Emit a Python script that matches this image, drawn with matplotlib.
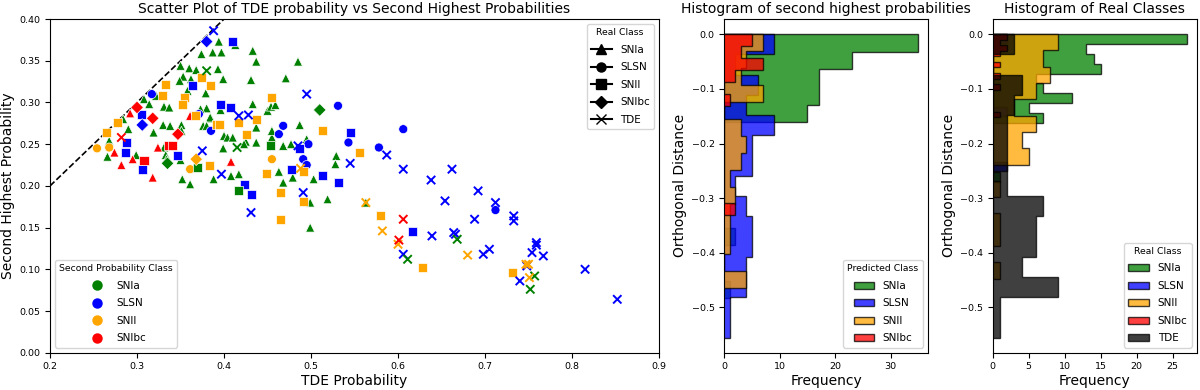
import numpy as np
import matplotlib
matplotlib.use('Agg')
from matplotlib import pyplot as plt
from matplotlib.lines import Line2D
from matplotlib.patches import Patch

#  class names / colours
second_classes = ['SNIa', 'SLSN', 'SNII', 'SNIbc']
second_colors = {'g': 'green', 'b': 'blue', 'o': 'orange', 'r': 'red'}
real_classes = ['SNIa', 'SLSN', 'SNII', 'SNIbc', 'TDE']
real_markers = ['^', 'o', 's', 'D', 'x']
hist_colors = ['green', 'blue', 'orange', 'red', 'black']

#  scatter data: (TDE probability, second highest probability, second class)
snia_pts = [
    (0.394, 0.373, 'g'), (0.413, 0.369, 'g'), (0.433, 0.362, 'g'), (0.437, 0.349, 'g'),
    (0.485, 0.349, 'g'), (0.374, 0.358, 'g'), (0.387, 0.360, 'g'), (0.397, 0.360, 'g'),
    (0.350, 0.344, 'g'), (0.360, 0.341, 'g'), (0.368, 0.339, 'g'), (0.393, 0.340, 'g'),
    (0.353, 0.331, 'g'), (0.362, 0.328, 'g'), (0.399, 0.328, 'g'), (0.431, 0.327, 'g'),
    (0.471, 0.329, 'g'), (0.349, 0.326, 'g'), (0.358, 0.314, 'g'), (0.379, 0.311, 'g'),
    (0.322, 0.308, 'g'), (0.308, 0.304, 'g'), (0.314, 0.298, 'g'), (0.331, 0.295, 'g'),
    (0.337, 0.294, 'g'), (0.380, 0.293, 'g'), (0.396, 0.291, 'g'), (0.385, 0.281, 'g'),
    (0.284, 0.280, 'g'), (0.330, 0.273, 'g'), (0.338, 0.272, 'g'), (0.351, 0.273, 'g'),
    (0.376, 0.272, 'g'), (0.290, 0.268, 'g'), (0.351, 0.266, 'g'), (0.319, 0.264, 'g'),
    (0.400, 0.260, 'g'), (0.268, 0.254, 'g'), (0.266, 0.235, 'g'), (0.299, 0.237, 'g'),
    (0.331, 0.246, 'g'), (0.333, 0.237, 'g'), (0.350, 0.231, 'g'), (0.334, 0.232, 'g'),
    (0.352, 0.208, 'g'), (0.361, 0.202, 'g'), (0.388, 0.208, 'g'), (0.399, 0.245, 'g'),
    (0.433, 0.298, 'g'), (0.450, 0.290, 'g'), (0.454, 0.295, 'g'), (0.459, 0.297, 'g'),
    (0.404, 0.258, 'g'), (0.410, 0.258, 'g'), (0.425, 0.253, 'g'), (0.455, 0.258, 'g'),
    (0.437, 0.270, 'g'), (0.487, 0.273, 'g'), (0.495, 0.256, 'g'), (0.455, 0.266, 'g'),
    (0.423, 0.250, 'g'), (0.437, 0.252, 'g'), (0.468, 0.248, 'g'), (0.477, 0.250, 'g'),
    (0.408, 0.212, 'g'), (0.417, 0.214, 'g'), (0.463, 0.217, 'g'), (0.479, 0.210, 'g'),
    (0.503, 0.208, 'g'), (0.468, 0.204, 'g'), (0.499, 0.180, 'g'), (0.519, 0.184, 'g'),
    (0.563, 0.180, 'g'), (0.499, 0.150, 'g'), (0.529, 0.236, 'g'), (0.528, 0.226, 'g'),
    (0.384, 0.282, 'g'), (0.373, 0.292, 'g'), (0.380, 0.272, 'g'),
    (0.292, 0.287, 'r'), (0.361, 0.284, 'r'), (0.274, 0.240, 'r'), (0.282, 0.225, 'r'),
    (0.295, 0.232, 'r'), (0.318, 0.210, 'r'), (0.324, 0.246, 'r'), (0.408, 0.229, 'r'),
]
slsn_pts = [
    (0.317, 0.310, 'b'), (0.371, 0.286, 'b'), (0.385, 0.266, 'b'), (0.468, 0.272, 'b'),
    (0.463, 0.262, 'b'), (0.531, 0.296, 'b'), (0.606, 0.268, 'b'), (0.497, 0.250, 'b'),
    (0.543, 0.252, 'b'), (0.578, 0.246, 'b'), (0.491, 0.232, 'b'), (0.495, 0.225, 'b'),
    (0.712, 0.171, 'b'),
    (0.254, 0.245, 'o'), (0.268, 0.246, 'o'), (0.361, 0.220, 'o'), (0.455, 0.232, 'o'),
]
snii_pts = [
    (0.410, 0.373, 'b'), (0.364, 0.320, 'b'), (0.396, 0.298, 'b'), (0.407, 0.294, 'b'),
    (0.305, 0.286, 'b'), (0.288, 0.252, 'b'), (0.287, 0.240, 'b'), (0.306, 0.220, 'b'),
    (0.346, 0.236, 'b'), (0.487, 0.245, 'b'), (0.545, 0.264, 'b'), (0.478, 0.220, 'b'),
    (0.513, 0.212, 'b'), (0.531, 0.204, 'b'), (0.424, 0.202, 'b'), (0.431, 0.190, 'b'),
    (0.617, 0.145, 'b'),
    (0.374, 0.330, 'o'), (0.333, 0.322, 'o'), (0.385, 0.320, 'o'), (0.329, 0.308, 'o'),
    (0.354, 0.306, 'o'), (0.352, 0.298, 'o'), (0.367, 0.284, 'o'), (0.277, 0.276, 'o'),
    (0.391, 0.274, 'o'), (0.395, 0.273, 'o'), (0.265, 0.264, 'o'), (0.455, 0.306, 'o'),
    (0.437, 0.280, 'o'), (0.417, 0.276, 'o'), (0.426, 0.262, 'o'), (0.513, 0.266, 'o'),
    (0.556, 0.240, 'o'), (0.383, 0.225, 'o'), (0.449, 0.215, 'o'), (0.491, 0.217, 'o'),
    (0.465, 0.192, 'o'), (0.491, 0.181, 'o'), (0.580, 0.164, 'o'), (0.465, 0.160, 'o'),
    (0.628, 0.102, 'o'), (0.731, 0.096, 'o'),
    (0.453, 0.248, 'g'), (0.370, 0.222, 'g'), (0.417, 0.194, 'g'),
    (0.308, 0.230, 'r'), (0.336, 0.248, 'r'), (0.341, 0.248, 'r'),
]
snibc_pts = [
    (0.380, 0.373, 'b'), (0.306, 0.273, 'b'),
    (0.300, 0.294, 'r'), (0.318, 0.281, 'r'), (0.347, 0.262, 'r'),
    (0.510, 0.291, 'g'), (0.335, 0.227, 'g'),
    (0.368, 0.232, 'o'),
]
tde_pts = [
    (0.388, 0.386, 'b'), (0.417, 0.284, 'b'), (0.428, 0.285, 'b'), (0.495, 0.310, 'b'),
    (0.375, 0.242, 'b'), (0.397, 0.214, 'b'), (0.485, 0.248, 'b'), (0.545, 0.227, 'b'),
    (0.587, 0.237, 'b'), (0.606, 0.220, 'b'), (0.431, 0.168, 'b'), (0.491, 0.192, 'b'),
    (0.606, 0.118, 'b'), (0.639, 0.140, 'b'), (0.654, 0.182, 'b'), (0.664, 0.144, 'b'),
    (0.666, 0.142, 'b'), (0.688, 0.160, 'b'), (0.692, 0.194, 'b'), (0.698, 0.118, 'b'),
    (0.705, 0.124, 'b'), (0.712, 0.180, 'b'), (0.733, 0.164, 'b'), (0.733, 0.158, 'b'),
    (0.740, 0.086, 'b'), (0.748, 0.104, 'b'), (0.754, 0.120, 'b'), (0.759, 0.132, 'b'),
    (0.759, 0.129, 'b'), (0.767, 0.116, 'b'), (0.815, 0.100, 'b'), (0.852, 0.064, 'b'),
    (0.638, 0.207, 'b'), (0.662, 0.220, 'b'),
    (0.380, 0.338, 'g'), (0.415, 0.246, 'g'), (0.611, 0.112, 'g'), (0.668, 0.136, 'g'),
    (0.757, 0.092, 'g'), (0.752, 0.076, 'g'),
    (0.488, 0.221, 'o'), (0.563, 0.180, 'o'), (0.582, 0.146, 'o'), (0.600, 0.130, 'o'),
    (0.680, 0.117, 'o'), (0.747, 0.106, 'o'), (0.750, 0.106, 'o'), (0.751, 0.090, 'o'),
    (0.282, 0.258, 'r'), (0.606, 0.160, 'r'), (0.601, 0.135, 'r'),
]
real_points = [snia_pts, slsn_pts, snii_pts, snibc_pts, tde_pts]

#  histogram of second highest probabilities (predicted class): top, bottom, counts top->bottom
pred_snia = (0.0, -0.483, [35, 23, 17, 17, 15, 0, 0, 0, 0, 0, 0, 2, 0, 0, 1])
pred_slsn = (0.0, -0.555, [9, 2, 6, 4, 9, 5, 5, 2, 4, 5, 5, 4, 4, 1, 1])
pred_snii = (0.0, -0.465, [7, 4, 3, 7, 0, 3, 4, 3, 1, 2, 1, 1, 1, 0, 4])
pred_snibc = (0.0, -0.330, [5, 3, 7, 2, 0, 1, 0, 0, 0, 0, 0, 0, 0, 0, 2])
pred_hists = [pred_snia, pred_slsn, pred_snii, pred_snibc]

#  histogram of real classes
real_snia = (0.0, -0.270, [27, 13, 14, 15, 6, 7, 11, 5, 7, 0, 0, 0, 0, 0, 1])
real_slsn = (0.0, -0.250, [2, 1, 0, 0, 0, 0, 0, 0, 2, 0, 0, 0, 0, 0, 2])
real_snii = (0.0, -0.447, [9, 7, 8, 6, 3, 6, 4, 5, 0, 1, 0, 1, 1, 0, 1])
real_snibc = (0.0, -0.152, [2, 1, 2, 1, 0, 1, 0, 1, 0, 1, 0, 0, 0, 0, 1])
real_tde = (0.0, -0.555, [3, 0, 4, 3, 2, 2, 2, 2, 7, 6, 6, 4, 9, 1, 1])
real_hists = [real_snia, real_slsn, real_snii, real_snibc, real_tde]


def draw_hist(ax, hists, colors):
    for (top, bottom, counts), c in zip(hists, colors):
        edges = np.linspace(bottom, top, len(counts) + 1)
        ax.stairs(np.array(counts)[::-1], edges, orientation='horizontal', fill=True,
                  facecolor=c, edgecolor='black', alpha=0.75, linewidth=1)


fig = plt.figure(figsize=(12, 3.9), dpi=100)
ax1 = fig.add_axes([0.0417, 0.0956, 0.5075, 0.8556])
ax2 = fig.add_axes([0.6036, 0.0956, 0.1698, 0.8556])
ax3 = fig.add_axes([0.8273, 0.0956, 0.1700, 0.8556])

leg_kw = dict(fontsize=7.5, title_fontsize=6.7, labelspacing=0.72)

#  scatter
ax1.plot([0, 1], [0, 1], 'k--', linewidth=1.2)
for pts, m in zip(real_points, real_markers):
    xs = [p[0] for p in pts]
    ys = [p[1] for p in pts]
    cs = [second_colors[p[2]] for p in pts]
    if m == 'x':
        ax1.scatter(xs, ys, marker=m, c=cs, s=36, linewidths=1.4, zorder=3)
    else:
        ax1.scatter(xs, ys, marker=m, c=cs, s=42, edgecolors='white', linewidths=0.5, zorder=3)
ax1.set_xlim(0.2, 0.9)
ax1.set_ylim(0.0, 0.4)
ax1.set_title('Scatter Plot of TDE probability vs Second Highest Probabilities', fontsize=10, pad=4)
ax1.set_xlabel('TDE Probability', fontsize=10, labelpad=2)
ax1.set_ylabel('Second Highest Probability', fontsize=10, labelpad=3)
ax1.tick_params(labelsize=6.8)

real_handles = [Line2D([0], [0], color='k', marker=m, markersize=6.5, label=n)
                for n, m in zip(real_classes, real_markers)]
leg1 = ax1.legend(handles=real_handles, title='Real Class', loc='upper right', **leg_kw)
ax1.add_artist(leg1)
second_handles = [Line2D([0], [0], linestyle='', marker='o', color=c, markersize=6.5, label=n)
                  for n, c in zip(second_classes, ['green', 'blue', 'orange', 'red'])]
ax1.legend(handles=second_handles, title='Second Probability Class', loc='lower left', **leg_kw)

#  histogram of second highest probabilities
draw_hist(ax2, pred_hists, hist_colors[:4])
ax2.set_title('Histogram of second highest probabilities', fontsize=10, pad=4)
ax2.set_xlabel('Frequency', fontsize=10, labelpad=2)
ax2.set_ylabel('Orthogonal Distance', fontsize=10, labelpad=3)
ax2.tick_params(labelsize=6.8)
ax2.legend(handles=[Patch(facecolor=c, edgecolor='black', alpha=0.75, label=n)
                    for n, c in zip(second_classes, hist_colors[:4])],
           title='Predicted Class', loc='lower right', **leg_kw)

#  histogram of real classes
draw_hist(ax3, real_hists, hist_colors)
ax3.set_title('Histogram of Real Classes', fontsize=10, pad=4)
ax3.set_xlabel('Frequency', fontsize=10, labelpad=2)
ax3.set_ylabel('Orthogonal Distance', fontsize=10, labelpad=3)
ax3.tick_params(labelsize=6.8)
ax3.legend(handles=[Patch(facecolor=c, edgecolor='black', alpha=0.75, label=n)
                    for n, c in zip(real_classes, hist_colors)],
           title='Real Class', loc='lower right', **leg_kw)

fig.savefig('out.png', dpi=100)
